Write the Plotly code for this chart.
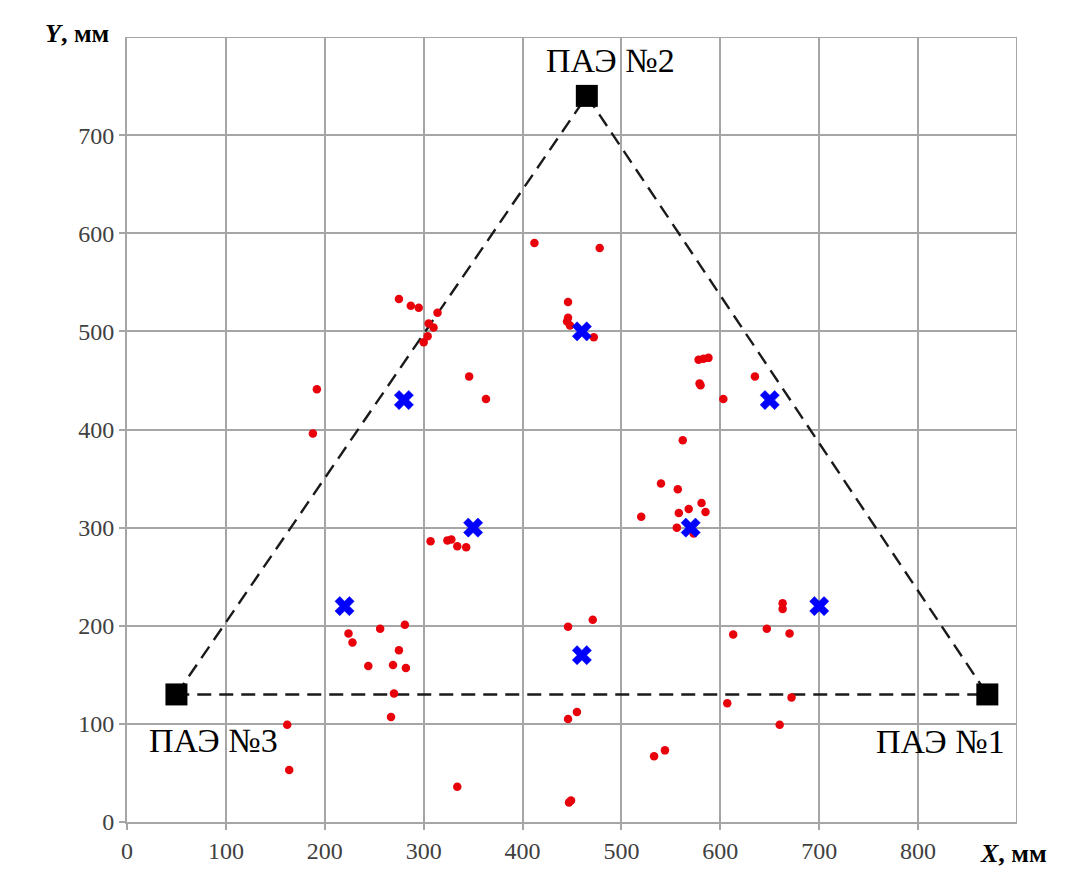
import plotly.graph_objects as go

# Sensor (ПАЭ) positions
sensor_names = ["ПАЭ №1", "ПАЭ №2", "ПАЭ №3"]
sensor_x = [870, 465, 50]
sensor_y = [130, 740, 130]

# Simulated source locations (blue crosses)
source_x = [280, 460, 650, 350, 570, 220, 700, 460]
source_y = [430, 500, 430, 300, 300, 220, 220, 170]

# Located events (red dots)
event_x = [412, 478, 446, 446, 445, 448, 472,
           275, 287, 295, 314, 305, 310, 304, 300,
           192, 188, 346, 363,
           578, 583, 588, 579, 580, 603, 635,
           562, 540, 557, 581, 568, 558, 585, 520, 556, 573,
           307, 324, 328, 334, 343, 351,
           224, 228, 256, 281, 275, 244, 269, 282, 270, 267,
           162, 164, 334,
           446, 471, 446, 455, 447, 449,
           533, 544,
           613, 647, 670, 663, 663, 607, 672, 660]
event_y = [590, 585, 530, 514, 510, 506, 494,
           533, 526, 524, 519, 508, 504, 495, 489,
           441, 396, 454, 431,
           471, 472, 473, 447, 445, 431, 454,
           389, 345, 339, 325, 319, 315, 316, 311, 300, 294,
           286, 287, 288, 281, 280, 299,
           192, 183, 197, 201, 175, 159, 160, 157, 131, 107,
           99, 53, 36,
           199, 206, 105, 112, 20, 22,
           67, 73,
           191, 197, 192, 223, 217, 121, 127, 99]

# Axis ticks
x_ticks = [0, 100, 200, 300, 400, 500, 600, 700, 800]
y_ticks = [0, 100, 200, 300, 400, 500, 600, 700]
x_label = "<b><i>X</i>, мм</b>"
y_label = "<b><i>Y</i>, мм</b>"

SERIF = "Liberation Serif, Times New Roman, serif"

fig = go.Figure()

# Triangle between sensors (ПАЭ3 -> ПАЭ2 -> ПАЭ1 -> ПАЭ3)
tri_x = [sensor_x[2], sensor_x[1], sensor_x[0], sensor_x[2]]
tri_y = [sensor_y[2], sensor_y[1], sensor_y[0], sensor_y[2]]
fig.add_trace(go.Scatter(x=tri_x, y=tri_y, mode="lines",
                         line=dict(color="#1a1a1a", width=2.4, dash="14px,8px"),
                         hoverinfo="skip", showlegend=False))

fig.add_trace(go.Scatter(x=event_x, y=event_y, mode="markers",
                         marker=dict(color="#e8000b", size=8.5),
                         showlegend=False))

fig.add_trace(go.Scatter(x=source_x, y=source_y, mode="markers",
                         marker=dict(symbol="x", color="#0000ff", size=17,
                                     line=dict(width=0.5, color="#0000ff")),
                         showlegend=False))

fig.add_trace(go.Scatter(x=sensor_x, y=sensor_y, mode="markers",
                         marker=dict(symbol="square", color="black", size=22),
                         showlegend=False))

# Sensor labels
fig.add_annotation(x=sensor_x[0], y=sensor_y[0], text=sensor_names[0], showarrow=False,
                   xanchor="center", yanchor="middle", xshift=-47, yshift=-47,
                   font=dict(family=SERIF, size=34, color="black"))
fig.add_annotation(x=sensor_x[1], y=sensor_y[1], text=sensor_names[1], showarrow=False,
                   xanchor="center", yanchor="middle", xshift=24, yshift=35,
                   font=dict(family=SERIF, size=34, color="black"))
fig.add_annotation(x=sensor_x[2], y=sensor_y[2], text=sensor_names[2], showarrow=False,
                   xanchor="center", yanchor="middle", xshift=37, yshift=-46,
                   font=dict(family=SERIF, size=34, color="black"))

# Axis end labels
fig.add_annotation(x=900, y=0, text=x_label, showarrow=False, xref="x", yref="y",
                   xanchor="center", yanchor="middle", xshift=-4, yshift=-31,
                   font=dict(family=SERIF, size=26, color="black"))
fig.add_annotation(x=0, y=800, text=y_label, showarrow=False, xref="x", yref="y",
                   xanchor="right", yanchor="middle", xshift=-16, yshift=4,
                   font=dict(family=SERIF, size=26, color="black"))

grid_col = "#a6a6a6"
tick_font = dict(family=SERIF, size=24, color="#404040")
fig.update_xaxes(range=[0, 900], tickvals=x_ticks, ticktext=[str(v) for v in x_ticks],
                 showgrid=True, gridcolor=grid_col, gridwidth=2,
                 showline=True, linecolor=grid_col, linewidth=2,
                 ticks="outside", ticklen=6, tickcolor=grid_col, tickwidth=2,
                 tickfont=tick_font, zeroline=False)
fig.update_yaxes(range=[0, 800], tickvals=y_ticks, ticktext=[str(v) for v in y_ticks],
                 showgrid=True, gridcolor=grid_col, gridwidth=2,
                 showline=True, linecolor=grid_col, linewidth=2,
                 ticks="outside", ticklen=6, tickcolor=grid_col, tickwidth=2,
                 tickfont=tick_font, zeroline=False)

# grid lines at the far ends (X = 900, Y = 800)
fig.add_shape(type="line", xref="x", yref="paper", x0=900, x1=900, y0=0, y1=1,
              line=dict(color=grid_col, width=2), layer="below")
fig.add_shape(type="line", xref="paper", yref="y", x0=0, x1=1, y0=800, y1=800,
              line=dict(color=grid_col, width=2), layer="below")

fig.update_layout(width=1092, height=872,
                  margin=dict(l=119, r=83, t=29, b=58),
                  plot_bgcolor="white", paper_bgcolor="white",
                  showlegend=False)

fig.write_html("out.html")
